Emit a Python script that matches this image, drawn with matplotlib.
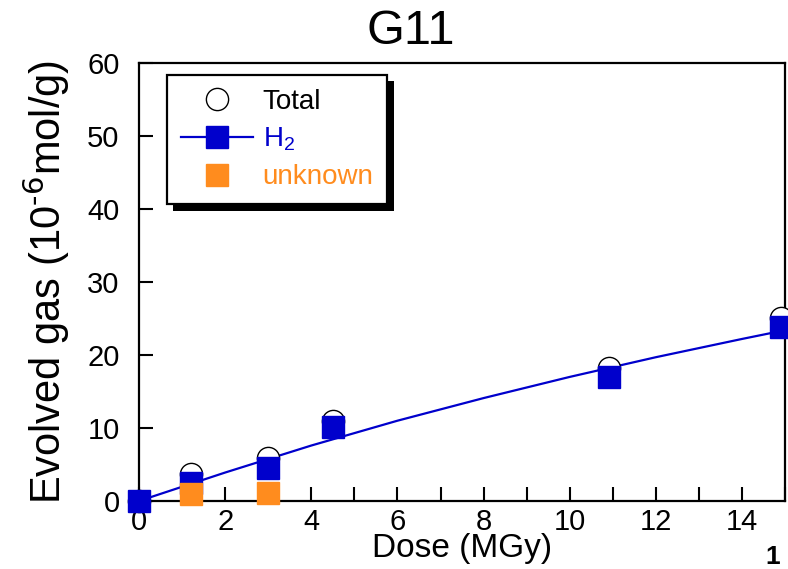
import matplotlib
matplotlib.use("Agg")
import matplotlib.pyplot as plt
import matplotlib.patheffects as pe
from matplotlib.ticker import MultipleLocator

plt.rcParams["font.family"] = ["Liberation Sans", "DejaVu Sans"]
plt.rcParams["mathtext.default"] = "regular"

BLUE = "#0000cc"
ORANGE = "#ff8c1e"

# measured gas yields vs dose
dose_total = [0, 1.2, 3.0, 4.5, 10.9, 14.9]
gas_total = [0, 3.7, 5.9, 11.0, 18.2, 25.1]
dose_h2 = [0, 1.2, 3.0, 4.5, 10.9, 14.9]
gas_h2 = [0, 2.5, 4.5, 10.1, 17.0, 23.8]
dose_unknown = [1.2, 3.0]
gas_unknown = [1.0, 1.1]

# smooth H2 trend curve
fit_dose = [0, 2, 4, 6, 8, 10, 12, 14, 15]
fit_h2 = [0, 3.9, 7.6, 11.0, 14.1, 17.0, 19.7, 22.2, 23.4]

fig = plt.figure(figsize=(7.88, 5.69), dpi=100)
ax = fig.add_axes([0.1764, 0.1195, 0.820, 0.7698])

ax.plot(fit_dose, fit_h2, color=BLUE, lw=1.6, zorder=2, clip_on=False)
ax.plot(dose_total, gas_total, ls="none", marker="o", ms=16, mfc="white",
        mec="black", mew=1.0, zorder=3, clip_on=False)
ax.plot(dose_h2, gas_h2, ls="none", marker="s", ms=16, mfc=BLUE, mec=BLUE,
        zorder=4, clip_on=False)
ax.plot(dose_unknown, gas_unknown, ls="none", marker="s", ms=16, mfc=ORANGE,
        mec=ORANGE, zorder=5, clip_on=False)

# legend handles
h_tot, = ax.plot([], [], ls="none", marker="o", ms=16, mfc="white", mec="black", mew=1.0)
h_h2, = ax.plot([], [], color=BLUE, lw=1.6, marker="s", ms=16, mfc=BLUE, mec=BLUE)
h_unk, = ax.plot([], [], ls="none", marker="s", ms=16, mfc=ORANGE, mec=ORANGE)
leg = ax.legend([h_tot, h_h2, h_unk], ["Total", "H$_2$", "unknown"],
                loc="upper left", bbox_to_anchor=(0.043, 0.973), borderaxespad=0,
                fontsize=20, fancybox=False, handlelength=2.6, handletextpad=0.35,
                borderpad=0.5, labelspacing=0.4, framealpha=1)
fr = leg.get_frame()
fr.set_edgecolor("black")
fr.set_linewidth(1.6)
fr.set_path_effects([pe.SimplePatchShadow(offset=(4.5, -4.5), shadow_rgbFace="black", alpha=1),
                     pe.Normal()])
for t, c in zip(leg.get_texts(), ["black", BLUE, ORANGE]):
    t.set_color(c)

ax.set_xlim(0, 15)
ax.set_ylim(0, 60)
ax.xaxis.set_major_locator(MultipleLocator(2))
ax.xaxis.set_minor_locator(MultipleLocator(1))
ax.yaxis.set_major_locator(MultipleLocator(10))
ax.tick_params(which="both", direction="in", length=10, width=1.5, labelsize=21,
               top=False, right=False)
ax.tick_params(axis="x", pad=5)
ax.tick_params(axis="y", pad=14)
for s in ax.spines.values():
    s.set_linewidth(1.6)

ax.set_xlabel("Dose (MGy)", fontsize=24, labelpad=-2)
ax.set_ylabel("Evolved gas (10$^{\\text{-6}}$mol/g)", fontsize=30, labelpad=11)
ax.set_title("G11", fontsize=35, pad=14, x=0.42)
fig.text(0.99, 0.0, "1", fontsize=19, fontweight="bold", ha="right", va="bottom")

fig.savefig("out.png", dpi=100)
